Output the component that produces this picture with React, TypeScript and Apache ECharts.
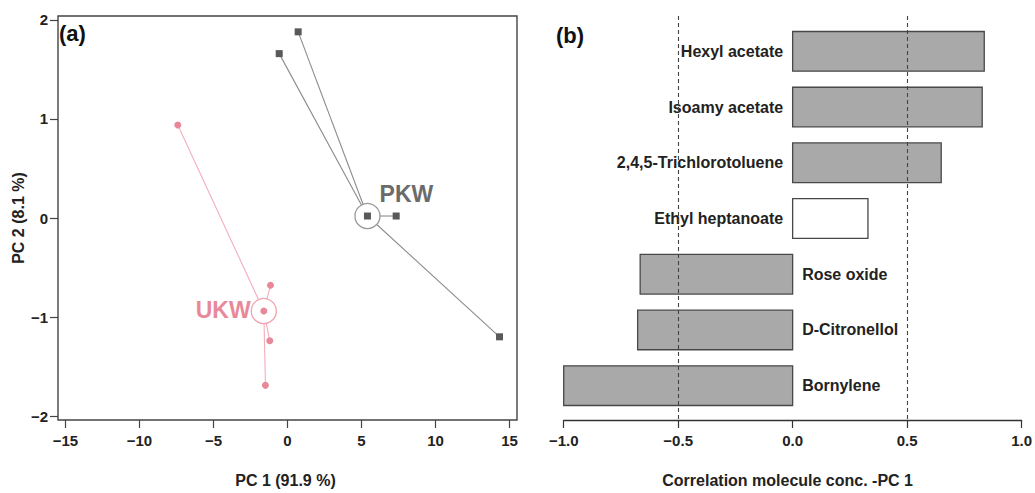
import React, { useEffect, useRef } from "react";
import * as echarts from "echarts";

// ---- Panel (a): PCA scores ----
const pkwX = [0.72, -0.56, 5.4, 7.34, 14.32];
const pkwY = [1.88, 1.66, 0.02, 0.02, -1.2];
const pkwCenter = [5.4, 0.02];
const ukwX = [-7.41, -1.15, -1.6, -1.2, -1.49];
const ukwY = [0.94, -0.68, -0.94, -1.24, -1.69];
const ukwCenter = [-1.6, -0.94];
const pcXTicks = [-15, -10, -5, 0, 5, 10, 15];
const pcYTicks = [-2, -1, 0, 1, 2];

// ---- Panel (b): correlations with PC 1 ----
const compounds = [
  "Hexyl acetate",
  "Isoamy acetate",
  "2,4,5-Trichlorotoluene",
  "Ethyl heptanoate",
  "Rose oxide",
  "D-Citronellol",
  "Bornylene",
];
const correlations = [0.837, 0.828, 0.649, 0.329, -0.666, -0.677, -1.0];
const threshold = 0.5;

const FONT = "'Liberation Sans', Arial, sans-serif";
const minus = (s: string) => s.replace("-", "\u2212");

export default function App() {
  const ref = useRef<HTMLDivElement>(null);
  useEffect(() => {
    if (!ref.current) return;
    const chart = echarts.init(ref.current, undefined, { renderer: "svg" });

    const spokeItem = (color: string) => (params: any, api: any) => {
      const p = api.coord([api.value(0), api.value(1)]);
      const c = api.coord([api.value(2), api.value(3)]);
      return {
        type: "line",
        shape: { x1: p[0], y1: p[1], x2: c[0], y2: c[1] },
        style: { stroke: color, lineWidth: 1.1 },
      };
    };

    const tickLabel = { fontFamily: FONT, fontWeight: "bold", fontSize: 15, color: "#222" };

    const option: any = {
      animation: false,
      backgroundColor: "#fff",
      textStyle: { fontFamily: FONT },
      grid: [
        { left: 58, top: 16, width: 459, height: 408, show: true, borderColor: "#444", borderWidth: 1.4, backgroundColor: "transparent" },
        { left: 563.7, top: 16, width: 458.3, height: 408 },
      ],
      xAxis: [
        {
          gridIndex: 0,
          type: "value",
          min: -15.5,
          max: 15.5,
          position: "bottom",
          axisLine: { show: false, onZero: false },
          splitLine: { show: false },
          axisTick: { show: true, length: 8, customValues: pcXTicks, lineStyle: { color: "#444", width: 1.2 } },
          axisLabel: { ...tickLabel, margin: 13, customValues: pcXTicks, formatter: (v: number) => minus(String(v)) },
          name: "PC 1 (91.9 %)",
          nameLocation: "middle",
          nameGap: 52,
          nameTextStyle: { fontFamily: FONT, fontWeight: "bold", fontSize: 16, color: "#222", padding: [0, 4, 0, 0] },
        },
        {
          gridIndex: 1,
          type: "value",
          min: -1,
          max: 1,
          interval: 0.5,
          position: "bottom",
          axisLine: { show: true, onZero: false, lineStyle: { color: "#333", width: 1.3 } },
          splitLine: { show: false },
          axisTick: { show: true, length: 8, lineStyle: { color: "#333", width: 1.2 } },
          axisLabel: { ...tickLabel, margin: 13, formatter: (v: number) => minus(v.toFixed(1)) },
          name: "Correlation molecule conc. -PC 1",
          nameLocation: "middle",
          nameGap: 52,
          nameTextStyle: { fontFamily: FONT, fontWeight: "bold", fontSize: 16, color: "#222", padding: [0, 10, 0, 0] },
        },
      ],
      yAxis: [
        {
          gridIndex: 0,
          type: "value",
          min: -2.04,
          max: 2.04,
          position: "left",
          axisLine: { show: false, onZero: false },
          splitLine: { show: false },
          axisTick: { show: true, length: 8, customValues: pcYTicks, lineStyle: { color: "#444", width: 1.2 } },
          axisLabel: { ...tickLabel, margin: 10, customValues: pcYTicks, formatter: (v: number) => minus(String(v)) },
          name: "PC 2 (8.1 %)",
          nameLocation: "middle",
          nameGap: 32,
          nameRotate: 90,
          nameTextStyle: { fontFamily: FONT, fontWeight: "bold", fontSize: 16, color: "#222" },
        },
        {
          gridIndex: 1,
          type: "value",
          min: -0.634,
          max: 6.616,
          inverse: true,
          show: false,
          axisLine: { onZero: false },
        },
      ],
      series: [
        {
          type: "custom",
          xAxisIndex: 0,
          yAxisIndex: 0,
          z: 1,
          renderItem: spokeItem("#8c8c8c"),
          encode: { x: [0, 2], y: [1, 3] },
          data: pkwX.map((x, i) => [x, pkwY[i], pkwCenter[0], pkwCenter[1]]),
        },
        {
          type: "custom",
          xAxisIndex: 0,
          yAxisIndex: 0,
          z: 1,
          renderItem: spokeItem("#F3AEBB"),
          encode: { x: [0, 2], y: [1, 3] },
          data: ukwX.map((x, i) => [x, ukwY[i], ukwCenter[0], ukwCenter[1]]),
        },
        {
          type: "scatter",
          xAxisIndex: 0,
          yAxisIndex: 0,
          z: 2,
          symbol: "circle",
          symbolSize: 25,
          itemStyle: { color: "#fff", borderColor: "#9a9a9a", borderWidth: 1.3, opacity: 1 },
          label: {
            show: true,
            position: "right",
            distance: -1,
            offset: [0, -22],
            formatter: "PKW",
            fontFamily: FONT,
            fontWeight: "bold",
            fontSize: 23,
            color: "#6b6b6b",
          },
          data: [pkwCenter],
        },
        {
          type: "scatter",
          xAxisIndex: 0,
          yAxisIndex: 0,
          z: 2,
          symbol: "circle",
          symbolSize: 25,
          itemStyle: { color: "#fff", borderColor: "#F0A3B1", borderWidth: 1.3, opacity: 1 },
          label: {
            show: true,
            position: "left",
            distance: 0,
            offset: [0, -1],
            formatter: "UKW",
            fontFamily: FONT,
            fontWeight: "bold",
            fontSize: 23,
            color: "#E8899A",
          },
          data: [ukwCenter],
        },
        {
          type: "scatter",
          xAxisIndex: 0,
          yAxisIndex: 0,
          z: 3,
          symbol: "rect",
          symbolSize: 7,
          itemStyle: { color: "#595959", opacity: 1 },
          data: pkwX.map((x, i) => [x, pkwY[i]]),
        },
        {
          type: "scatter",
          xAxisIndex: 0,
          yAxisIndex: 0,
          z: 3,
          symbol: "circle",
          symbolSize: 7,
          itemStyle: { color: "#E8899A", opacity: 1 },
          data: ukwX.map((x, i) => [x, ukwY[i]]),
        },
        {
          type: "custom",
          xAxisIndex: 1,
          yAxisIndex: 1,
          z: 2,
          encode: { x: 0, y: 1 },
          data: correlations.map((v, i) => [v, i]),
          renderItem: (params: any, api: any) => {
            const v = api.value(0);
            const i = api.value(1);
            const a = api.coord([0, i]);
            const b = api.coord([v, i]);
            const h = api.size([0, 1])[1] * 0.711;
            const x0 = Math.min(a[0], b[0]);
            const w = Math.abs(b[0] - a[0]);
            const positive = v >= 0;
            const label = compounds[params.dataIndex];
            return {
              type: "group",
              children: [
                {
                  type: "rect",
                  shape: { x: x0, y: a[1] - h / 2, width: w, height: h },
                  style: {
                    fill: Math.abs(v) >= threshold ? "#A9A9A9" : "#ffffff",
                    stroke: "#484848",
                    lineWidth: 1.3,
                  },
                },
                {
                  type: "text",
                  style: {
                    text: label,
                    x: positive ? a[0] - 9.5 : a[0] + 9.5,
                    y: a[1],
                    align: positive ? "right" : "left",
                    textAlign: positive ? "right" : "left",
                    verticalAlign: "middle",
                    textVerticalAlign: "middle",
                    font: `bold 16px ${FONT}`,
                    fill: "#222",
                  },
                },
              ],
            };
          },
          markLine: {
            silent: true,
            symbol: "none",
            label: { show: false },
            lineStyle: { color: "#444", type: [4, 3], width: 1.1 },
            data: [{ xAxis: -threshold }, { xAxis: threshold }],
          },
        },
      ],
      graphic: [
        {
          type: "text",
          left: 59,
          top: 22,
          style: { text: "(a)", font: `bold 22px ${FONT}`, fill: "#111" },
        },
        {
          type: "text",
          left: 556,
          top: 24,
          style: { text: "(b)", font: `bold 22px ${FONT}`, fill: "#111" },
        },
      ],
    };

    chart.setOption(option);
    return () => chart.dispose();
  }, []);

  return (
    <div
      ref={ref}
      style={{ position: "fixed", left: 0, top: 0, width: 1035, height: 493, background: "#fff" }}
    />
  );
}
